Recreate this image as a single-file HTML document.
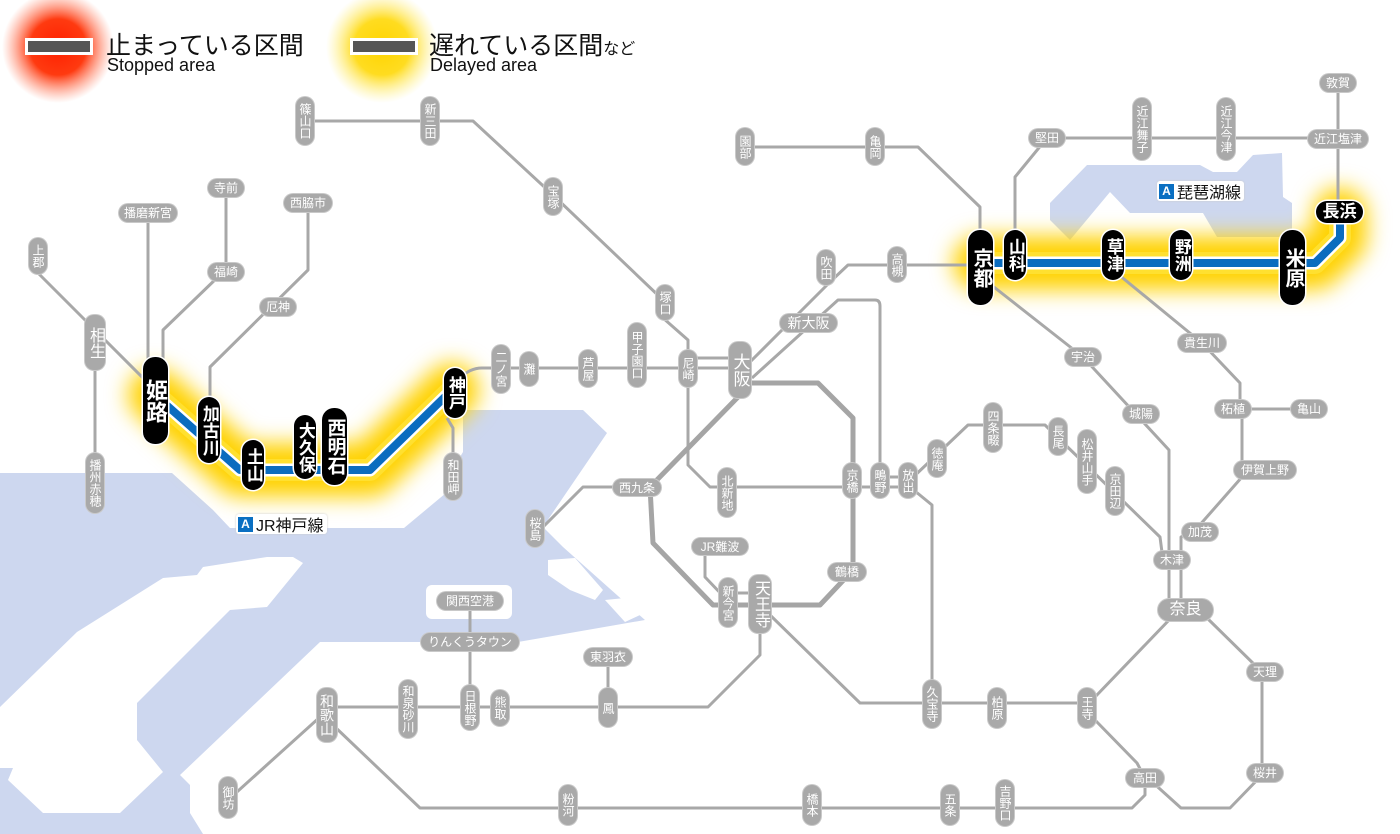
<!DOCTYPE html>
<html><head><meta charset="utf-8">
<style>
html,body{margin:0;padding:0;background:#fff;}
#w{position:relative;width:1400px;height:834px;overflow:hidden;background:#fff;font-family:"Liberation Sans","Noto Sans CJK JP",sans-serif;}
svg{position:absolute;left:0;top:0;}
.s{position:absolute;display:flex;align-items:center;justify-content:center;background:#a9a9a9;color:#fff;border-radius:9px;font-size:12px;line-height:1;box-shadow:0 0 0 1px #c9c9c9;white-space:nowrap;}
.v{writing-mode:vertical-rl;text-orientation:upright;letter-spacing:0;}
.b{position:absolute;display:flex;align-items:center;justify-content:center;background:#000;color:#fff;border-radius:12px;font-weight:bold;line-height:1.05;box-shadow:0 0 0 1.5px #fff;white-space:nowrap;}
.lab{position:absolute;background:#fff;border-radius:3px;display:flex;align-items:center;font-size:16px;color:#111;padding:0 3px 0 2px;box-shadow:0 0 2px #ccc;}
.lab i{display:inline-block;width:15px;height:15px;background:#0a6fc2;color:#fff;font-style:normal;font-size:12px;font-weight:bold;text-align:center;line-height:15px;margin-right:3px;}
.leg{position:absolute;color:#111;}
</style></head><body>
<div id="w">
<svg width="1400" height="834" viewBox="0 0 1400 834">
<defs>
<filter id="bl" x="-30%" y="-80%" width="160%" height="260%"><feGaussianBlur stdDeviation="11"/></filter>
<radialGradient id="rg"><stop offset="0" stop-color="#ff2000"/><stop offset="0.5" stop-color="#ff3a10"/><stop offset="1" stop-color="#ff8060" stop-opacity="0"/></radialGradient>
<radialGradient id="yg"><stop offset="0" stop-color="#ffd400"/><stop offset="0.5" stop-color="#ffdc20"/><stop offset="1" stop-color="#fff080" stop-opacity="0"/></radialGradient>
</defs>
<g fill="#cdd7ef">
<path d="M0,473 L172,473 L213,510 L230,528 L404,528 L446,493 L452,470 L463,452 L463,410 L583,410 L607,433 L543,527 L563,547 L645,620 L518,642 L320,642 L180,775 L190,785 L190,813 L203,834 L0,834 Z"/>
<path d="M1050,203 L1087,165 L1200,165 L1213,172 L1237,172 L1253,155 L1282,153 L1283,197 L1292,203 L1292,237 L1217,237 L1203,213 L1130,213 L1110,192 L1070,240 L1050,220 Z"/>
</g>
<g fill="#fff">
<path d="M0,707 L77,632 L163,578 L197,575 L203,567 L267,557 L293,557 L303,563 L267,607 L230,610 L137,703 L137,740 L163,772 L120,813 L43,813 L8,780 L13,768 L0,768 Z"/>
<rect x="426" y="585" width="86" height="34" rx="6"/>
<path d="M593,500 L598,505 L575,540 L568,535 Z"/>
<path d="M548,560 L575,558 L603,590 L595,600 L570,590 L548,575 Z"/>
<path d="M605,600 L625,598 L640,615 L625,622 Z"/>
</g>
<circle cx="58" cy="47" r="56" fill="url(#rg)"/>
<circle cx="382" cy="47" r="56" fill="url(#yg)"/>
<rect x="25" y="38" width="68" height="17" fill="#fff"/>
<rect x="28" y="41" width="62" height="11" fill="#555"/>
<rect x="350" y="38" width="68" height="17" fill="#fff"/>
<rect x="353" y="41" width="62" height="11" fill="#555"/>
<g fill="none" stroke="#ffd200" stroke-linejoin="round" stroke-linecap="round" filter="url(#bl)">
<path d="M155,395 L240,470 L370,470 L452,390" stroke-width="54"/>
<path d="M980,263 L1315,263 L1340,238 L1340,215" stroke-width="54"/>
</g>
<g fill="none" stroke="#ffe030" stroke-linejoin="round" stroke-linecap="round">
<path d="M155,395 L240,470 L370,470 L452,390" stroke-width="22"/>
<path d="M980,263 L1315,263 L1340,238 L1340,215" stroke-width="22"/>
</g>
<g fill="none" stroke="#a8a8a8" stroke-width="3" stroke-linejoin="round">
<path d="M38,273 L95,330 L150,385"/>
<path d="M95,340 L95,480"/>
<path d="M148,213 L148,360"/>
<path d="M226,188 L226,272"/>
<path d="M220,275 L163,330 L163,360"/>
<path d="M308,203 L308,270 L210,367 L210,400"/>
<path d="M305,121 L473,121 L553,195 L663,300 L663,318 L688,340 L688,465 L710,487 L880,487"/>
<path d="M880,477 L908,477 M880,487 L908,487"/>
<path d="M908,482 L968,425 L1045,425 L1160,537 L1163,560"/>
<path d="M460,378 Q470,368 482,368 L740,368"/>
<path d="M688,358 L740,358"/>
<path d="M447,418 L453,428 L453,460"/>
<path d="M740,372 L830,282 L848,265 L980,265"/>
<path d="M752,378 L838,300 L875,300 Q880,300 880,306 L880,487"/>
<path d="M745,147 L918,147 L980,207 L980,240"/>
<path d="M620,487 L583,487 L535,535"/>
<path d="M705,553 L705,577 L725,598"/>
<path d="M728,593 L760,593"/>
<path d="M760,630 L760,655 L708,707 L327,707"/>
<path d="M770,615 L860,703 L1090,703"/>
<path d="M910,487 L932,505 L932,690"/>
<path d="M985,280 L1083,357 L1169,450 L1169,610"/>
<path d="M1242,409 L1242,477 L1198,527 L1181,537 L1181,610"/>
<path d="M1113,270 L1202,343 L1240,383 L1240,409"/>
<path d="M1233,409 L1309,409"/>
<path d="M1171,618 L1095,697"/>
<path d="M1207,618 L1262,672 L1262,775 L1230,808 L1181,808 L1150,780"/>
<path d="M1095,720 L1137,763 L1145,778"/>
<path d="M1145,785 L1145,795 L1132,808 L420,808 L335,727"/>
<path d="M320,717 L228,800"/>
<path d="M470,601 L470,705"/>
<path d="M608,657 L608,707"/>
<path d="M1015,240 L1015,177 L1047,138 L1338,138"/>
<path d="M1338,83 L1338,210"/>
</g>
<path d="M740,383 L818,383 L853,418 L853,570 L820,605 L713,605 L653,543 L650,487 L740,395" fill="none" stroke="#a5a5a5" stroke-width="5" stroke-linejoin="round"/>
<g fill="none" stroke-linejoin="round">
<path d="M155,395 L240,470 L370,470 L452,390" stroke="#fff" stroke-width="13"/>
<path d="M980,263 L1315,263 L1340,238 L1340,215" stroke="#fff" stroke-width="13"/>
<path d="M155,395 L240,470 L370,470 L452,390" stroke="#0a6cbf" stroke-width="8"/>
<path d="M980,263 L1315,263 L1340,238 L1340,215" stroke="#0a6cbf" stroke-width="8"/>
</g>
</svg>

<div class="leg" style="left:106px;top:26px;font-size:25px;">止まっている区間</div>
<div class="leg" style="left:107px;top:55px;font-size:18px;">Stopped area</div>
<div class="leg" style="left:429px;top:26px;font-size:25px;">遅れている区間<span style="font-size:16px;">など</span></div>
<div class="leg" style="left:430px;top:55px;font-size:18px;">Delayed area</div>

<div class="lab" style="left:236px;top:514px;height:20px;"><i>A</i>JR神戸線</div>
<div class="lab" style="left:1157px;top:181px;height:20px;"><i>A</i>琵琶湖線</div>

<div class="b v" style="left:143px;top:357px;width:25px;height:87px;font-size:22px;">姫路</div>
<div class="b v" style="left:198px;top:397px;width:22px;height:66px;font-size:17px;">加古川</div>
<div class="b v" style="left:242px;top:440px;width:22px;height:50px;font-size:17px;">土山</div>
<div class="b v" style="left:294px;top:415px;width:22px;height:64px;font-size:17px;">大久保</div>
<div class="b v" style="left:322px;top:408px;width:25px;height:77px;font-size:19px;">西明石</div>
<div class="b v" style="left:444px;top:368px;width:22px;height:50px;font-size:17px;">神戸</div>
<div class="b v" style="left:968px;top:230px;width:25px;height:75px;font-size:20px;">京都</div>
<div class="b v" style="left:1004px;top:230px;width:22px;height:50px;font-size:17px;">山科</div>
<div class="b v" style="left:1102px;top:230px;width:22px;height:50px;font-size:17px;">草津</div>
<div class="b v" style="left:1170px;top:230px;width:22px;height:50px;font-size:17px;">野洲</div>
<div class="b v" style="left:1280px;top:230px;width:25px;height:75px;font-size:20px;">米原</div>
<div class="b" style="left:1316px;top:201px;width:47px;height:22px;font-size:17px;">長浜</div>

<div class="s v" style="left:29px;top:238px;width:18px;height:36px;">上郡</div>
<div class="s v" style="left:85px;top:315px;width:20px;height:55px;font-size:16px;">相生</div>
<div class="s v" style="left:86px;top:453px;width:18px;height:60px;">播州赤穂</div>
<div class="s v" style="left:296px;top:97px;width:18px;height:48px;">篠山口</div>
<div class="s v" style="left:421px;top:97px;width:18px;height:48px;">新三田</div>
<div class="s v" style="left:544px;top:178px;width:18px;height:37px;">宝塚</div>
<div class="s v" style="left:656px;top:285px;width:18px;height:35px;">塚口</div>
<div class="s v" style="left:492px;top:345px;width:18px;height:48px;">二ノ宮</div>
<div class="s v" style="left:520px;top:352px;width:18px;height:34px;">灘</div>
<div class="s v" style="left:579px;top:350px;width:18px;height:37px;">芦屋</div>
<div class="s v" style="left:628px;top:323px;width:18px;height:64px;">甲子園口</div>
<div class="s v" style="left:679px;top:350px;width:18px;height:37px;">尼崎</div>
<div class="s v" style="left:729px;top:342px;width:22px;height:56px;font-size:17px;">大阪</div>
<div class="s v" style="left:444px;top:453px;width:18px;height:47px;">和田岬</div>
<div class="s v" style="left:718px;top:468px;width:18px;height:49px;">北新地</div>
<div class="s v" style="left:843px;top:463px;width:18px;height:35px;">京橋</div>
<div class="s v" style="left:871px;top:463px;width:18px;height:35px;">鴫野</div>
<div class="s v" style="left:899px;top:463px;width:18px;height:35px;">放出</div>
<div class="s v" style="left:928px;top:440px;width:18px;height:37px;">徳庵</div>
<div class="s v" style="left:526px;top:510px;width:18px;height:37px;">桜島</div>
<div class="s v" style="left:719px;top:578px;width:18px;height:49px;">新今宮</div>
<div class="s v" style="left:749px;top:575px;width:22px;height:58px;font-size:16px;">天王寺</div>
<div class="s v" style="left:736px;top:128px;width:18px;height:37px;">園部</div>
<div class="s v" style="left:866px;top:128px;width:18px;height:37px;">亀岡</div>
<div class="s v" style="left:817px;top:250px;width:18px;height:35px;">吹田</div>
<div class="s v" style="left:888px;top:247px;width:18px;height:35px;">高槻</div>
<div class="s v" style="left:984px;top:403px;width:18px;height:49px;">四条畷</div>
<div class="s v" style="left:1049px;top:418px;width:18px;height:37px;">長尾</div>
<div class="s v" style="left:1078px;top:430px;width:18px;height:63px;">松井山手</div>
<div class="s v" style="left:1106px;top:467px;width:18px;height:48px;">京田辺</div>
<div class="s v" style="left:317px;top:688px;width:20px;height:54px;font-size:14px;">和歌山</div>
<div class="s v" style="left:399px;top:680px;width:18px;height:58px;">和泉砂川</div>
<div class="s v" style="left:461px;top:685px;width:18px;height:45px;">日根野</div>
<div class="s v" style="left:491px;top:690px;width:18px;height:36px;">熊取</div>
<div class="s v" style="left:599px;top:688px;width:18px;height:39px;">鳳</div>
<div class="s v" style="left:923px;top:680px;width:18px;height:48px;">久宝寺</div>
<div class="s v" style="left:988px;top:688px;width:18px;height:40px;">柏原</div>
<div class="s v" style="left:1078px;top:688px;width:18px;height:40px;">王寺</div>
<div class="s v" style="left:996px;top:780px;width:18px;height:46px;">吉野口</div>
<div class="s v" style="left:941px;top:785px;width:18px;height:40px;">五条</div>
<div class="s v" style="left:803px;top:785px;width:18px;height:40px;">橋本</div>
<div class="s v" style="left:559px;top:785px;width:18px;height:40px;">粉河</div>
<div class="s v" style="left:219px;top:777px;width:18px;height:41px;">御坊</div>
<div class="s v" style="left:1133px;top:98px;width:18px;height:62px;">近江舞子</div>
<div class="s v" style="left:1217px;top:98px;width:18px;height:62px;">近江今津</div>

<div class="s" style="left:119px;top:204px;width:58px;height:18px;">播磨新宮</div>
<div class="s" style="left:208px;top:179px;width:36px;height:18px;">寺前</div>
<div class="s" style="left:208px;top:263px;width:36px;height:18px;">福崎</div>
<div class="s" style="left:284px;top:194px;width:48px;height:18px;">西脇市</div>
<div class="s" style="left:260px;top:298px;width:36px;height:18px;">厄神</div>
<div class="s" style="left:780px;top:314px;width:57px;height:18px;font-size:14px;">新大阪</div>
<div class="s" style="left:613px;top:479px;width:48px;height:17px;">西九条</div>
<div class="s" style="left:692px;top:538px;width:56px;height:17px;">JR難波</div>
<div class="s" style="left:828px;top:563px;width:38px;height:18px;">鶴橋</div>
<div class="s" style="left:437px;top:592px;width:66px;height:18px;">関西空港</div>
<div class="s" style="left:421px;top:633px;width:98px;height:18px;">りんくうタウン</div>
<div class="s" style="left:584px;top:648px;width:48px;height:18px;">東羽衣</div>
<div class="s" style="left:1065px;top:348px;width:36px;height:18px;">宇治</div>
<div class="s" style="left:1123px;top:405px;width:36px;height:18px;">城陽</div>
<div class="s" style="left:1178px;top:334px;width:48px;height:18px;">貴生川</div>
<div class="s" style="left:1215px;top:400px;width:36px;height:18px;">柘植</div>
<div class="s" style="left:1291px;top:400px;width:36px;height:18px;">亀山</div>
<div class="s" style="left:1234px;top:461px;width:62px;height:18px;">伊賀上野</div>
<div class="s" style="left:1182px;top:523px;width:36px;height:18px;">加茂</div>
<div class="s" style="left:1154px;top:551px;width:36px;height:18px;">木津</div>
<div class="s" style="left:1158px;top:599px;width:55px;height:22px;font-size:16px;border-radius:11px;">奈良</div>
<div class="s" style="left:1247px;top:663px;width:36px;height:18px;">天理</div>
<div class="s" style="left:1247px;top:764px;width:36px;height:18px;">桜井</div>
<div class="s" style="left:1126px;top:769px;width:38px;height:18px;">高田</div>
<div class="s" style="left:1029px;top:129px;width:36px;height:18px;">堅田</div>
<div class="s" style="left:1308px;top:130px;width:60px;height:18px;">近江塩津</div>
<div class="s" style="left:1320px;top:74px;width:36px;height:18px;">敦賀</div>
</div>
</body></html>
